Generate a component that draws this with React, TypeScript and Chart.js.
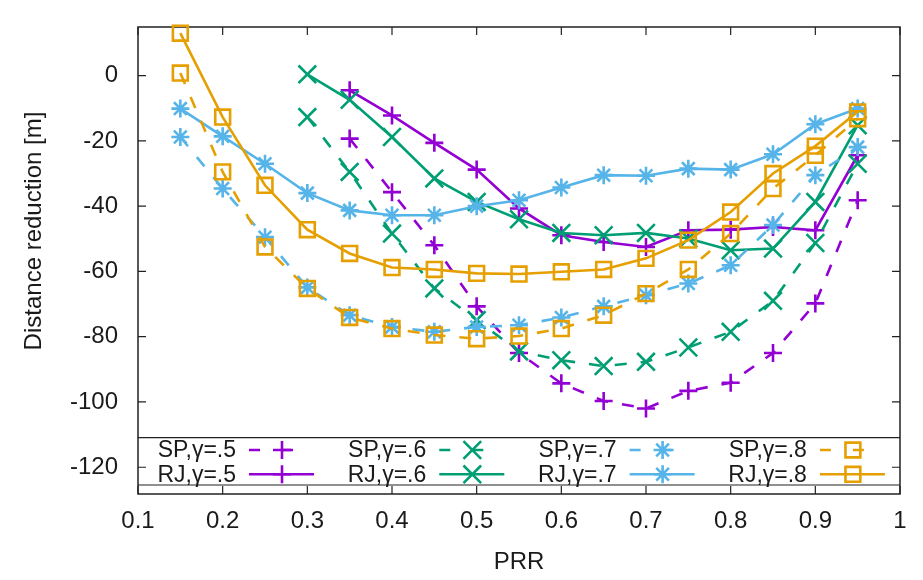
import React, { useEffect, useRef } from "react";
import { Chart, registerables } from "chart.js";
import { drawPoint } from "chart.js/helpers";

Chart.register(...registerables);

// ---- data ----
const PRR_FROM_015 = [0.15, 0.2, 0.25, 0.3, 0.35, 0.4, 0.45, 0.5, 0.55, 0.6, 0.65, 0.7, 0.75, 0.8, 0.85, 0.9, 0.95];
const PRR_FROM_030 = [0.3, 0.35, 0.4, 0.45, 0.5, 0.55, 0.6, 0.65, 0.7, 0.75, 0.8, 0.85, 0.9, 0.95];
const PRR_FROM_035 = [0.35, 0.4, 0.45, 0.5, 0.55, 0.6, 0.65, 0.7, 0.75, 0.8, 0.85, 0.9, 0.95];

const SP_G5 = [-19.3, -35.7, -52, -70.7, -85, -94.3, -99.7, -102, -96.6, -94.1, -85, -69.8, -38.2];
const RJ_G5 = [-4.5, -12.2, -20.6, -28.8, -40.7, -48.9, -51, -52.5, -47.4, -47.2, -46.4, -47.4, -24.4];
const SP_G6 = [-12.7, -29.5, -48.4, -65.2, -74.9, -84.5, -87.2, -89, -87.7, -83.3, -78.5, -69, -51.3, -27];
const RJ_G6 = [0.4, -7.4, -18.8, -31.5, -38.7, -44, -48.2, -48.9, -48.2, -49.9, -53.5, -53, -38.7, -15.2];
const SP_G7 = [-18.8, -34.6, -49.5, -64.9, -73.4, -77, -78.5, -77, -76.5, -74.1, -70.7, -67.3, -63.7, -58.1, -45.8, -30.5, -21.9];
const RJ_G7 = [-10.1, -18.6, -27, -36, -41.3, -42.8, -42.8, -40, -38.2, -34.3, -30.5, -30.7, -28.5, -28.8, -24.1, -14.9, -10.1];
const SP_G8 = [0.8, -29.5, -52.5, -65.2, -74.1, -77.5, -79.5, -80.6, -79.8, -77.5, -73.4, -66.8, -59.4, -48.4, -34.6, -24.4, -13.2];
const RJ_G8 = [13, -12.7, -33.6, -47.2, -54.5, -58.8, -59.4, -60.6, -60.8, -60.1, -59.4, -56, -50.4, -41.8, -30, -21.6, -11.1];

const X_TICKS = [0.1, 0.2, 0.3, 0.4, 0.5, 0.6, 0.7, 0.8, 0.9, 1.0];
const X_TICK_LABELS = ["0.1", "0.2", "0.3", "0.4", "0.5", "0.6", "0.7", "0.8", "0.9", "1"];
const Y_TICKS = [-120, -100, -80, -60, -40, -20, 0];
const Y_TICK_LABELS = ["-120", "-100", "-80", "-60", "-40", "-20", "0"];
const X_TITLE = "PRR";
const Y_TITLE = "Distance reduction [m]";

const SERIES_LABELS = ["SP,\u03b3=.5", "RJ,\u03b3=.5", "SP,\u03b3=.6", "RJ,\u03b3=.6", "SP,\u03b3=.7", "RJ,\u03b3=.7", "SP,\u03b3=.8", "RJ,\u03b3=.8"];
const SERIES_X = [PRR_FROM_035, PRR_FROM_035, PRR_FROM_030, PRR_FROM_030, PRR_FROM_015, PRR_FROM_015, PRR_FROM_015, PRR_FROM_015];
const SERIES_Y = [SP_G5, RJ_G5, SP_G6, RJ_G6, SP_G7, RJ_G7, SP_G8, RJ_G8];
const SERIES_COLORS = ["#9400D3", "#9400D3", "#009E73", "#009E73", "#56B4E9", "#56B4E9", "#E69F00", "#E69F00"];
const SERIES_POINTS = ["cross", "cross", "crossRot", "crossRot", "star", "star", "rect", "rect"];
const SERIES_RADII = [9, 9, 12.5, 12.5, 9, 9, 10.5, 10.5];
const SERIES_DASHED = [true, false, true, false, true, false, true, false];

const FONT_FAMILY = '"Liberation Sans", Arial, Helvetica, sans-serif';
const TEXT_COLOR = "#1a1a1a";
const FRAME_COLOR = "#222222";
const LINE_W = 2.6;
const DASH = [12, 14];

const framePlugin = {
  id: "gnuFrame",
  beforeDatasetsDraw(chart: any) {
    const { ctx, chartArea: a, scales } = chart;
    ctx.save();
    ctx.strokeStyle = FRAME_COLOR;
    ctx.lineWidth = 1.5;
    ctx.setLineDash([]);
    ctx.strokeRect(a.left, a.top, a.right - a.left, a.bottom - a.top);
    const tl = 8;
    ctx.lineWidth = 1.2;
    ctx.beginPath();
    X_TICKS.forEach((v) => {
      const px = scales.x.getPixelForValue(v);
      ctx.moveTo(px, a.bottom);
      ctx.lineTo(px, a.bottom - tl);
      ctx.moveTo(px, a.top);
      ctx.lineTo(px, a.top + tl);
    });
    Y_TICKS.forEach((v) => {
      const py = scales.y.getPixelForValue(v);
      ctx.moveTo(a.left, py);
      ctx.lineTo(a.left + tl, py);
      ctx.moveTo(a.right, py);
      ctx.lineTo(a.right - tl, py);
    });
    ctx.stroke();

    // y axis title
    ctx.fillStyle = TEXT_COLOR;
    ctx.font = `24px ${FONT_FAMILY}`;
    ctx.translate(34, 231);
    ctx.rotate(-Math.PI / 2);
    ctx.textAlign = "center";
    ctx.textBaseline = "middle";
    ctx.fillText(Y_TITLE, 0, 0);
    ctx.restore();
  },
  afterDatasetsDraw(chart: any) {
    const { ctx, chartArea: a } = chart;
    const ds = chart.data.datasets;
    ctx.save();
    // legend box lines
    const boxTop = a.bottom - 56.3;
    const boxBottom = a.bottom - 9;
    ctx.strokeStyle = FRAME_COLOR;
    ctx.lineWidth = 1.2;
    ctx.setLineDash([]);
    ctx.beginPath();
    ctx.moveTo(a.left, boxTop);
    ctx.lineTo(a.right, boxTop);
    ctx.moveTo(a.left, boxBottom);
    ctx.lineTo(a.right, boxBottom);
    ctx.stroke();

    ctx.font = `23px ${FONT_FAMILY}`;
    ctx.textAlign = "right";
    ctx.textBaseline = "middle";
    for (let c = 0; c < 4; c++) {
      for (let r = 0; r < 2; r++) {
        const i = c * 2 + r;
        const d = ds[i];
        const textRight = a.left + 98 + c * 190.3;
        const y = a.bottom - (r === 0 ? 44 : 19.7);
        ctx.fillStyle = TEXT_COLOR;
        ctx.fillText(d.label, textRight, y + 1);
        const x0 = textRight + 13;
        ctx.strokeStyle = d.borderColor;
        ctx.lineWidth = LINE_W;
        ctx.beginPath();
        if (SERIES_DASHED[i]) {
          ctx.moveTo(x0, y);
          ctx.lineTo(x0 + 11, y);
          ctx.moveTo(x0 + 33, y);
          ctx.lineTo(x0 + 44, y);
        } else {
          ctx.moveTo(x0, y);
          ctx.lineTo(x0 + 65, y);
        }
        ctx.stroke();
        ctx.fillStyle = "rgba(0,0,0,0)";
        drawPoint(ctx, { pointStyle: d.pointStyle, radius: d.pointRadius, rotation: 0, borderWidth: LINE_W }, x0 + 33, y);
      }
    }
    ctx.restore();
  },
};

export default function App() {
  const canvasRef = useRef<HTMLCanvasElement | null>(null);

  useEffect(() => {
    const canvas = canvasRef.current;
    if (!canvas) return;
    const n = SERIES_LABELS.length;
    const datasets = SERIES_LABELS.map((label, i) => ({
      label,
      data: SERIES_X[i].map((x, j) => ({ x, y: SERIES_Y[i][j] })),
      borderColor: SERIES_COLORS[i],
      backgroundColor: "rgba(0,0,0,0)",
      borderWidth: LINE_W,
      borderDash: SERIES_DASHED[i] ? DASH : [],
      pointStyle: SERIES_POINTS[i],
      pointRadius: SERIES_RADII[i],
      pointBorderWidth: LINE_W,
      pointBorderColor: SERIES_COLORS[i],
      pointBackgroundColor: "rgba(0,0,0,0)",
      pointHoverRadius: SERIES_RADII[i],
      tension: 0,
      fill: false,
      clip: false,
      order: n - i,
    }));

    const tickFont = { family: FONT_FAMILY, size: 24 };
    const chart = new Chart(canvas, {
      type: "line",
      data: { datasets },
      options: {
        animation: false,
        responsive: true,
        maintainAspectRatio: false,
        events: [],
        layout: { padding: { top: 27, right: 23, left: 0, bottom: 0 } },
        plugins: { legend: { display: false }, tooltip: { enabled: false } },
        scales: {
          x: {
            type: "linear",
            min: 0.1,
            max: 1.0,
            grid: { display: false, drawTicks: false },
            border: { display: false },
            afterBuildTicks: (s: any) => {
              s.ticks = X_TICKS.map((v) => ({ value: v }));
            },
            afterFit: (s: any) => {
              s.height = 86;
              s.paddingLeft = 0;
              s.paddingRight = 0;
            },
            ticks: {
              autoSkip: false,
              maxRotation: 0,
              padding: 13,
              color: TEXT_COLOR,
              font: tickFont,
              callback: (_v: any, idx: number) => X_TICK_LABELS[idx],
            },
            title: {
              display: true,
              text: X_TITLE,
              color: TEXT_COLOR,
              font: tickFont,
              padding: { top: 0, bottom: 3 },
            },
          },
          y: {
            type: "linear",
            min: -128.2,
            max: 14.9,
            grid: { display: false, drawTicks: false },
            border: { display: false },
            afterBuildTicks: (s: any) => {
              s.ticks = Y_TICKS.map((v) => ({ value: v }));
            },
            afterFit: (s: any) => {
              s.width = 138;
              s.paddingTop = 0;
              s.paddingBottom = 0;
            },
            ticks: {
              autoSkip: false,
              padding: 20,
              color: TEXT_COLOR,
              font: tickFont,
              callback: (_v: any, idx: number) => Y_TICK_LABELS[idx],
            },
          },
        },
      } as any,
      plugins: [framePlugin],
    });
    return () => chart.destroy();
  }, []);

  return (
    <div style={{ position: "fixed", left: 0, top: 0, width: 923, height: 580, background: "#fff" }}>
      <canvas ref={canvasRef} />
    </div>
  );
}
